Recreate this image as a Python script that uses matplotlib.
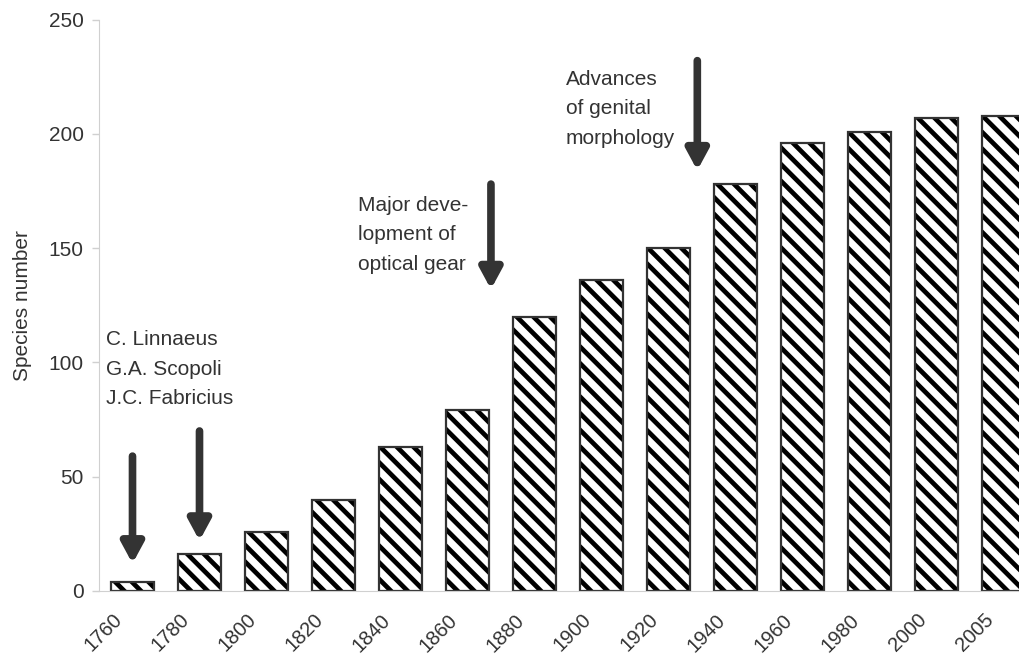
import matplotlib.pyplot as plt
import matplotlib.transforms as mtransforms
import numpy as np

# Species counts per period
years = ["1760", "1780", "1800", "1820", "1840", "1860", "1880",
         "1900", "1920", "1940", "1960", "1980", "2000", "2005"]
species = [4, 16, 26, 40, 63, 79, 120, 136, 150, 178, 196, 201, 207, 208]

# Notes placed above the bars, with arrows pointing down
notes = ["C. Linnaeus\nG.A. Scopoli\nJ.C. Fabricius",
         "Major deve-\nlopment of\noptical gear",
         "Advances\nof genital\nmorphology"]
arrow_x = [0, 1, 5.35, 8.43]
arrow_top = [59, 70, 178, 232]
arrow_tip = [12, 22, 132, 184]

plt.rcParams["font.family"] = ["Liberation Sans", "DejaVu Sans"]
plt.rcParams["hatch.linewidth"] = 3.4

W, H = 1019, 657
fig = plt.figure(figsize=(W / 100, H / 100), dpi=100)
ax = fig.add_axes([99 / W, 66 / H, 938 / W, 571.5 / H])

x = np.arange(len(years))
# striped fill, then the thin outline on top
ax.bar(x, species, width=0.63, color="white", edgecolor="black",
       linewidth=0, hatch="\\\\")
ax.bar(x, species, width=0.63, fill=False, edgecolor="#333333", linewidth=1.6)

ax.set_xlim(-0.5, len(years) - 0.5)
ax.set_ylim(0, 250)
ax.set_yticks(range(0, 251, 50))
ax.set_xticks(x)
ax.set_xticklabels([])

# slanted year labels, set a little left of each bar centre
lbl_tr = ax.get_xaxis_transform() + mtransforms.ScaledTranslation(
    -13 / 100, -26 / 100, fig.dpi_scale_trans)
for xi, yr in zip(x, years):
    ax.text(xi, 0, yr, transform=lbl_tr, rotation=45, ha="right", va="center",
            rotation_mode="anchor", fontsize=14.5, color="#333333")

grey = "#d0d0d0"
for side in ["top", "right"]:
    ax.spines[side].set_visible(False)
ax.spines["left"].set_color(grey)
ax.spines["bottom"].set_color(grey)
ax.tick_params(axis="y", colors=grey, labelcolor="#333333", labelsize=15,
               length=5, width=1, pad=6)
ax.tick_params(axis="x", length=0)
ax.set_ylabel("Species number", fontsize=15, color="#333333", labelpad=12)

for xa, y0, y1 in zip(arrow_x, arrow_top, arrow_tip):
    ax.annotate("", xy=(xa, y1), xytext=(xa, y0),
                arrowprops=dict(arrowstyle="-|>,head_length=1.2,head_width=0.65",
                                lw=5.5, color="#333333", shrinkA=0, shrinkB=0))

text_kw = dict(fontsize=15, color="#333333", linespacing=1.7, va="top", ha="left")
ax.text(-0.39, 114, notes[0], **text_kw)
ax.text(3.37, 173, notes[1], **text_kw)
ax.text(6.47, 228, notes[2], **text_kw)

fig.savefig("out.png", dpi=100)
